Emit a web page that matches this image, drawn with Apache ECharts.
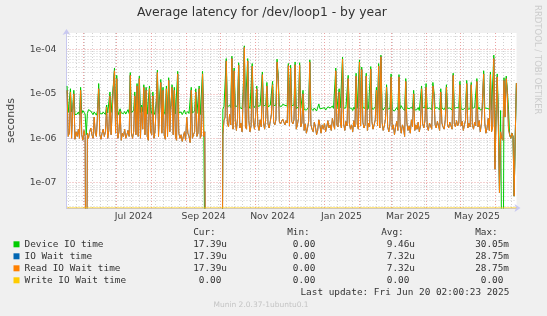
<!DOCTYPE html>
<html>
<head>
<meta charset="utf-8">
<title>Average latency for /dev/loop1 - by year</title>
<script src="https://cdn.jsdelivr.net/npm/echarts@6/dist/echarts.min.js"></script>
<style>
  html, body { margin: 0; padding: 0; background: #f0f0f0; }
  #chart { width: 547px; height: 316px; }
</style>
</head>
<body>
<div id="chart"></div>
<script>
// one point per day, starting at firstDay, values in microseconds
const firstDay = '2024-05-18'

const seriesNames = ['Device IO time', 'IO Wait time', 'Read IO Wait time', 'Write IO Wait time']
const seriesColors = ['#00cc00', '#0066b3', '#ff8000', '#ffcc00']

const deviceUs = [
  15, 3.8, 3.5, 13, 3.9, 4.6, 12, 3.4, 3.7, 3.5,
  3.9, 3.3, 14, 3.6, 4.2, 3.8, 3.5, 1.2, 3.6, 4.4,
  4.8, 4.1, 3.7, 3.4, 3.9, 3.6, 3.3, 4.2, 17, 3.7,
  3.4, 3.5, 3.9, 3.6, 3.4, 5.6, 3.7, 3.5, 11, 3.8,
  3.6, 16, 38, 3.5, 26, 3.3, 3.9, 4.6, 3.7, 3.4,
  3.6, 4.0, 3.5, 3.8, 4.4, 3.6, 30, 3.7, 3.4, 4.3,
  11, 3.6, 17, 3.5, 25, 3.8, 5.6, 3.9, 16, 3.6,
  14, 3.5, 3.7, 15, 4.2, 3.6, 11, 3.4, 3.9, 6.5,
  34, 3.6, 3.5, 21, 3.7, 14, 3.9, 3.4, 15, 3.6,
  23, 4.4, 5.5, 16, 3.8, 14, 3.5, 3.3, 32, 3.7,
  3.5, 3.9, 3.4, 3.6, 4.3, 3.5, 3.8, 4.0, 3.6, 3.3,
  14, 3.7, 3.5, 4.1, 13, 3.6, 3.9, 15, 3.4, 3.7,
  32, 3.6, 3.9, 0, 0, 0, 0, 0, 0, 0,
  0, 0, 0, 0, 0, 0, 0, 0, 4.5, 5.2,
  5.5, 62, 5.0, 4.8, 5.6, 4.9, 70, 5.3, 38, 5.1,
  4.7, 5.4, 50, 4.9, 5.2, 4.6, 11, 120, 5.0, 4.8,
  62, 5.3, 4.7, 5.1, 48, 5.5, 4.9, 5.6, 15, 5.2,
  4.8, 5.4, 5.0, 31, 5.3, 4.9, 5.6, 18, 5.1, 4.8,
  5.5, 5.8, 19, 5.4, 5.0, 5.6, 60, 26, 5.3, 5.6,
  5.2, 5.8, 5.4, 5.5, 5.7, 5.3, 48, 5.1, 44, 5.4,
  5.0, 5.6, 52, 4.6, 4.9, 5.2, 50, 4.7, 4.9, 12,
  4.4, 4.8, 4.3, 4.6, 5.0, 58, 4.7, 4.4, 4.2, 4.8,
  4.5, 4.1, 4.3, 5.9, 4.6, 4.2, 4.7, 4.4, 4.9, 4.3,
  4.5, 5.1, 4.6, 4.8, 4.4, 5.3, 4.7, 4.5, 38, 4.6,
  4.4, 13, 4.8, 4.5, 67, 4.7, 4.3, 4.9, 4.6, 26,
  4.8, 4.4, 4.7, 4.2, 5.0, 4.5, 29, 4.7, 4.4, 58,
  4.6, 40, 4.9, 4.5, 4.7, 29, 4.3, 4.8, 4.6, 41,
  4.9, 4.4, 4.7, 5.1, 14, 4.6, 48, 4.5, 74, 4.8,
  4.3, 4.6, 5.2, 16, 4.5, 4.2, 4.7, 28, 4.4, 4.7,
  4.1, 4.5, 4.9, 4.3, 27, 4.6, 5.4, 4.8, 4.5, 4.2,
  22, 4.8, 4.4, 4.6, 4.3, 5.0, 4.5, 12, 4.3, 4.7,
  4.4, 4.9, 4.2, 4.6, 15, 4.8, 4.5, 5.0, 17, 4.6,
  4.3, 4.8, 4.5, 4.4, 18, 11, 4.7, 4.5, 4.9, 4.6,
  4.3, 13, 4.8, 4.5, 4.4, 5.0, 16, 4.7, 4.5, 4.8,
  4.6, 4.3, 29, 4.7, 4.5, 4.9, 4.6, 4.8, 19, 4.6,
  4.9, 4.4, 4.7, 5.0, 20, 4.5, 4.8, 4.6, 18, 4.7,
  4.4, 4.9, 4.6, 22, 4.5, 5.0, 4.3, 4.7, 4.6, 33,
  4.8, 4.4, 4.7, 5.1, 4.5, 31, 4.3, 4.6, 74, 0.3,
  4.4, 28, 4.6, 0.07, 4.2, 4.5, 0, 23, 4.6, 25,
  12, 4.4, 1.2, 1.0, 1.3, 1.1, 0.05, 1.2, 17.39
]

const readUs = [
  12, 1.1, 1.3, 11, 1.0, 4, 10, 0.95, 1.4, 1.1,
  1.6, 1.0, 12, 1.2, 0.9, 1.5, 1.1, 0, 1.3, 1.0,
  1.4, 1.7, 1.2, 1.0, 3, 1.3, 1.1, 3.5, 13, 1.2,
  0.95, 1.3, 1.6, 1.1, 1.4, 5, 1.0, 1.5, 9, 1.2,
  1.1, 14, 33, 1.3, 22, 1.0, 1.4, 4, 0.9, 1.3,
  1.1, 1.6, 1.0, 1.2, 1.5, 1.1, 26, 1.3, 1.0, 1.4,
  9, 1.2, 15, 1.1, 22, 1.0, 5, 1.6, 14, 1.2,
  12, 1.1, 0.9, 13, 1.4, 1.2, 9, 1.0, 1.5, 6,
  30, 1.1, 1.0, 18, 1.3, 12, 1.2, 0.95, 13, 1.1,
  20, 1.4, 5, 14, 1.2, 12, 1.1, 0.9, 28, 1.3,
  1.0, 1.2, 0.85, 1.1, 1.4, 0.9, 3, 1.3, 1.1, 0.8,
  12, 1.0, 1.2, 1.4, 11, 1.1, 1.3, 13, 1.0, 1.2,
  28, 1.1, 1.4, 0, 0, 0, 0, 0, 0, 0,
  0, 0, 0, 0, 0, 0, 0, 0, 1.2, 2.5,
  3, 55, 2.2, 1.8, 3.5, 2.0, 62, 1.6, 33, 2.4,
  1.5, 2.8, 44, 1.7, 2.2, 1.4, 9, 110, 1.8, 1.6,
  55, 2.5, 1.4, 1.9, 42, 2.3, 1.6, 3.2, 13, 2.0,
  1.5, 2.6, 1.8, 27, 2.2, 1.6, 2.9, 15, 2.1, 1.7,
  2.4, 3.5, 16, 2.3, 2.0, 2.6, 52, 22, 2.4, 2.1,
  1.9, 2.7, 2.3, 2.0, 2.5, 2.2, 43, 1.9, 38, 2.4,
  2.1, 2.6, 45, 1.6, 2.0, 2.8, 44, 1.8, 2.2, 10,
  1.5, 2.1, 1.3, 1.7, 2.4, 52, 2.0, 1.6, 1.4, 2.3,
  1.8, 1.2, 1.5, 2.6, 1.9, 1.3, 2.0, 1.6, 2.2, 1.4,
  1.8, 2.5, 1.7, 2.0, 1.5, 2.8, 2.1, 1.6, 33, 2.0,
  1.8, 11, 2.3, 1.7, 60, 2.1, 1.5, 2.4, 1.9, 22,
  2.2, 1.6, 2.0, 1.4, 2.5, 1.8, 25, 2.1, 1.6, 52,
  1.9, 35, 2.3, 1.7, 2.0, 25, 1.5, 2.2, 1.8, 36,
  2.4, 1.6, 2.0, 2.6, 12, 1.9, 42, 1.7, 68, 2.3,
  1.5, 1.9, 2.7, 14, 1.8, 1.4, 2.1, 24, 1.6, 2.0,
  1.2, 1.8, 2.4, 1.5, 24, 1.9, 1.3, 2.0, 1.7, 1.1,
  19, 2.2, 1.5, 1.9, 1.3, 2.6, 1.8, 10, 1.5, 2.0,
  1.6, 2.3, 1.4, 1.9, 13, 2.1, 1.7, 2.5, 14, 1.8,
  1.5, 2.2, 1.9, 1.6, 15, 9, 2.0, 1.7, 2.4, 1.9,
  1.5, 11, 2.2, 1.8, 1.6, 2.6, 14, 2.0, 1.7, 2.3,
  1.9, 1.6, 26, 2.1, 1.8, 2.5, 1.9, 2.2, 16, 1.9,
  2.4, 1.5, 2.0, 2.6, 17, 1.7, 2.2, 1.8, 16, 2.0,
  1.6, 2.3, 1.9, 19, 1.8, 2.5, 1.4, 2.1, 1.9, 28,
  2.2, 1.3, 1.7, 2.8, 1.5, 27, 1.4, 1.8, 62, 0.2,
  3, 24, 2.0, 0.06, 1.4, 1.0, 0.9, 20, 3, 22,
  10, 1.6, 1.2, 1.0, 1.3, 1.1, 0.05, 1.2, 17.39
]

// IO Wait time is identical to Read IO Wait time in this graph
const ioWaitUs = readUs

const writeUs = [
  0, 0, 0, 0, 0, 0, 0, 0, 0, 0, 0, 0, 0, 0, 0, 0, 0, 0, 0, 0, 0, 0, 0, 0, 0, 0, 0, 0, 0, 0, 0, 0, 0, 0, 0, 0, 0, 0, 0, 0,
  0, 0, 0, 0, 0, 0, 0, 0, 0, 0, 0, 0, 0, 0, 0, 0, 0, 0, 0, 0, 0, 0, 0, 0, 0, 0, 0, 0, 0, 0, 0, 0, 0, 0, 0, 0, 0, 0, 0, 0,
  0, 0, 0, 0, 0, 0, 0, 0, 0, 0, 0, 0, 0, 0, 0, 0, 0, 0, 0, 0, 0, 0, 0, 0, 0, 0, 0, 0, 0, 0, 0, 0, 0, 0, 0, 0, 0, 0, 0, 0,
  0, 0, 0, 0, 0, 0, 0, 0, 0, 0, 0, 0, 0, 0, 0, 0, 0, 0, 0, 0, 0, 0, 0, 0, 0, 0, 0, 0, 0, 0, 0, 0, 0, 0, 0, 0, 0, 0, 0, 0,
  0, 0, 0, 0, 0, 0, 0, 0, 0, 0, 0, 0, 0, 0, 0, 0, 0, 0, 0, 0, 0, 0, 0, 0, 0, 0, 0, 0, 0, 0, 0, 0, 0, 0, 0, 0, 0, 0, 0, 0,
  0, 0, 0, 0, 0, 0, 0, 0, 0, 0, 0, 0, 0, 0, 0, 0, 0, 0, 0, 0, 0, 0, 0, 0, 0, 0, 0, 0, 0, 0, 0, 0, 0, 0, 0, 0, 0, 0, 0, 0,
  0, 0, 0, 0, 0, 0, 0, 0, 0, 0, 0, 0, 0, 0, 0, 0, 0, 0, 0, 0, 0, 0, 0, 0, 0, 0, 0, 0, 0, 0, 0, 0, 0, 0, 0, 0, 0, 0, 0, 0,
  0, 0, 0, 0, 0, 0, 0, 0, 0, 0, 0, 0, 0, 0, 0, 0, 0, 0, 0, 0, 0, 0, 0, 0, 0, 0, 0, 0, 0, 0, 0, 0, 0, 0, 0, 0, 0, 0, 0, 0,
  0, 0, 0, 0, 0, 0, 0, 0, 0, 0, 0, 0, 0, 0, 0, 0, 0, 0, 0, 0, 0, 0, 0, 0, 0, 0, 0, 0, 0, 0, 0, 0, 0, 0, 0, 0, 0, 0, 0, 0,
  0, 0, 0, 0, 0, 0, 0, 0, 0, 0, 0, 0, 0, 0, 0, 0, 0, 0, 0, 0, 0, 0, 0, 0, 0, 0, 0, 0, 0, 0, 0, 0, 0, 0, 0, 0, 0, 0, 0
]

// legend table
const curText = ['17.39u', '17.39u', '17.39u', '0.00']
const minText = ['0.00', '0.00', '0.00', '0.00']
const avgText = ['9.46u', '7.32u', '7.32u', '0.00']
const maxText = ['30.05m', '28.75m', '28.75m', '0.00']
const colHeads = ['Cur:', 'Min:', 'Avg:', 'Max:']
const lastUpdate = 'Last update: Fri Jun 20 02:00:23 2025'

// axes
const yTickValues = [1e-7, 1e-6, 1e-5, 1e-4]
const yTickLabels = ['1e-07', '1e-06', '1e-05', '1e-04']
const xLabelDates = ['2024-07-16', '2024-09-16', '2024-11-16', '2025-01-16', '2025-03-16', '2025-05-16']
const xLabelTexts = ['Jul 2024', 'Sep 2024', 'Nov 2024', 'Jan 2025', 'Mar 2025', 'May 2025']
const monthStarts = ['2024-06-01', '2024-07-01', '2024-08-01', '2024-09-01', '2024-10-01', '2024-11-01',
  '2024-12-01', '2025-01-01', '2025-02-01', '2025-03-01', '2025-04-01', '2025-05-01', '2025-06-01']

const DAY = 86400000
const utc = s => Date.parse(s + 'T00:00:00Z')
const X_MIN = Date.parse('2024-05-17T12:00:00Z')
const X_MAX = Date.parse('2025-06-20T02:00:00Z')
const Y_MIN = 2.7e-8
const Y_MAX = 2.33e-4

// zeros can't sit on a log axis: the write line is pinned to the bottom edge,
// the other series just drop out of the plot (clipped) like in rrdtool
const t0 = utc(firstDay)
const toPoints = (arr, floor) => arr.map((v, i) => [t0 + i * DAY, v > 0 ? v * 1e-6 : floor])

// grid: red dotted month lines, grey dotted week (sunday) lines and 2..9 minor lines
const gridGrey = { color: '#d0d0d0', width: 1, type: [1, 2] }
const gridRed = { color: '#eba3a3', width: 1, type: [1, 2] }
const gridLines = []
for (let t = utc('2024-05-19'); t < X_MAX; t += 7 * DAY) gridLines.push({ xAxis: t, lineStyle: gridGrey })
for (let e = -8; e <= -4; e++) {
  for (let k = 2; k <= 9; k++) {
    const v = k * Math.pow(10, e)
    if (v > Y_MIN && v < Y_MAX) gridLines.push({ yAxis: v, lineStyle: gridGrey })
  }
}
monthStarts.forEach(d => gridLines.push({ xAxis: utc(d), lineStyle: gridRed }))

const seriesData = [deviceUs, ioWaitUs, readUs, writeUs]
const xLabelStamps = xLabelDates.map(utc)

const chart = echarts.init(document.getElementById('chart'))

const monoFont = '9.4px "DejaVu Sans Mono"'
const colRight = [227, 321, 415, 509]
const rowY = [244.3, 256.3, 268.3, 280.3]
const pad = s => (/[a-z]$/i.test(s) ? s : s + '\u00a0')

const tableText = []
colHeads.forEach((h, c) => tableText.push({
  type: 'text', x: colRight[c], y: 232.3,
  style: { text: h + '\u00a0\u00a0', font: monoFont, fill: '#333', align: 'right', verticalAlign: 'middle' }
}))
;[curText, minText, avgText, maxText].forEach((col, c) => {
  col.forEach((s, r) => tableText.push({
    type: 'text', x: colRight[c], y: rowY[r],
    style: { text: pad(s), font: monoFont, fill: '#333', align: 'right', verticalAlign: 'middle' }
  }))
})

const option = {
  animation: false,
  backgroundColor: '#f0f0f0',
  title: {
    text: 'Average latency for /dev/loop1 - by year',
    left: 137, top: 7, padding: 0,
    textStyle: { fontFamily: 'DejaVu Sans', fontSize: 12.4, fontWeight: 'normal', color: '#333' }
  },
  grid: {
    left: 66.5, right: 30.5, top: 33, bottom: 108,
    show: true, backgroundColor: '#ffffff', borderWidth: 0,
    outerBoundsMode: 'none'
  },
  legend: {
    orient: 'vertical', left: 13.5, top: 239.8, padding: 0,
    itemWidth: 6, itemHeight: 6, itemGap: 3, icon: 'rect',
    selectedMode: false,
    textStyle: { fontFamily: 'DejaVu Sans Mono', fontSize: 9.4, color: '#333' },
    data: seriesNames
  },
  xAxis: {
    type: 'value', min: X_MIN, max: X_MAX,
    axisLine: {
      show: true, lineStyle: { color: '#c8c8f0', width: 1 },
      symbol: ['none', 'arrow'], symbolSize: [6, 6], symbolOffset: [0, 4]
    },
    axisTick: { show: false },
    splitLine: { show: false },
    axisLabel: {
      customValues: xLabelStamps,
      formatter: v => xLabelTexts[xLabelStamps.indexOf(v)] || '',
      fontFamily: 'DejaVu Sans', fontSize: 9.3, color: '#444', margin: 4,
      hideOverlap: false
    }
  },
  yAxis: {
    type: 'log', logBase: 10, min: Y_MIN, max: Y_MAX,
    name: 'seconds', nameLocation: 'middle', nameGap: 50, nameRotate: 90,
    nameTextStyle: { fontFamily: 'DejaVu Sans', fontSize: 11, color: '#444' },
    axisLine: {
      show: true, lineStyle: { color: '#c8c8f0', width: 1 },
      symbol: ['none', 'arrow'], symbolSize: [6, 6], symbolOffset: [0, 4]
    },
    axisTick: { show: false },
    splitLine: { show: true, showMinLine: false, showMaxLine: false, lineStyle: gridRed },
    axisLabel: {
      formatter: v => {
        const i = yTickValues.findIndex(t => Math.abs(Math.log10(t) - Math.log10(v)) < 1e-6)
        return i < 0 ? '' : yTickLabels[i]
      },
      fontFamily: 'DejaVu Sans', fontSize: 9.3, color: '#444', margin: 10
    }
  },
  series: seriesData.map((arr, i) => ({
    name: seriesNames[i],
    type: 'line',
    color: seriesColors[i],
    symbol: 'none',
    lineStyle: { width: 1, color: seriesColors[i] },
    data: toPoints(arr, i === 3 ? Y_MIN : 1e-12),
    emphasis: { disabled: true },
    markLine: i === 3 ? {
      silent: true, symbol: 'none', z: 1, animation: false, precision: 20,
      label: { show: false }, emphasis: { disabled: true },
      data: gridLines
    } : undefined
  })),
  graphic: tableText.concat([
    {
      type: 'text', x: 509.3, y: 292.7,
      style: { text: lastUpdate, font: monoFont, fill: '#333', align: 'right', verticalAlign: 'middle' }
    },
    {
      type: 'text', x: 261, y: 305,
      style: { text: 'Munin 2.0.37-1ubuntu0.1', font: '7.5px "DejaVu Sans"', fill: '#c4c4c4', align: 'center', verticalAlign: 'middle' }
    },
    {
      type: 'text', x: 537, y: 5, rotation: -Math.PI / 2,
      style: { text: 'RRDTOOL / TOBI OETIKER', font: '8.5px "DejaVu Sans"', fill: '#cccccc', align: 'left', verticalAlign: 'middle' }
    }
  ])
}

chart.setOption(option)
</script>
</body>
</html>
